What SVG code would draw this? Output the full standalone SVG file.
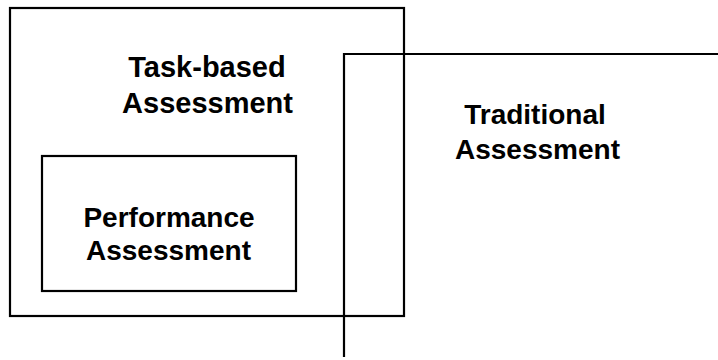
<svg xmlns="http://www.w3.org/2000/svg" width="718" height="360" viewBox="0 0 718 360">
  <style>
    .frame { fill: none; stroke: #000; stroke-width: 2.2; }
    .label { font-family: "Liberation Sans", Arial, sans-serif; font-weight: bold; font-size: 28px; fill: #000; text-anchor: middle; }
    .big { font-size: 29px; }
  </style>
  <rect width="718" height="360" fill="#fff"/>
  <g id="task-based">
    <rect class="frame" x="10" y="8" width="394" height="308"/>
    <text class="label big" x="207" y="77">Task-based</text>
    <text class="label big" x="207.5" y="113">Assessment</text>
  </g>
  <g id="performance">
    <rect class="frame" x="42" y="156" width="254" height="135"/>
    <text class="label" x="169" y="227">Performance</text>
    <text class="label" x="168.5" y="260">Assessment</text>
  </g>
  <g id="traditional">
    <path class="frame" d="M344,357 V54 H718"/>
    <text class="label" x="535" y="124">Traditional</text>
    <text class="label" x="537.5" y="159">Assessment</text>
  </g>
  <g id="connectors"/>
</svg>
